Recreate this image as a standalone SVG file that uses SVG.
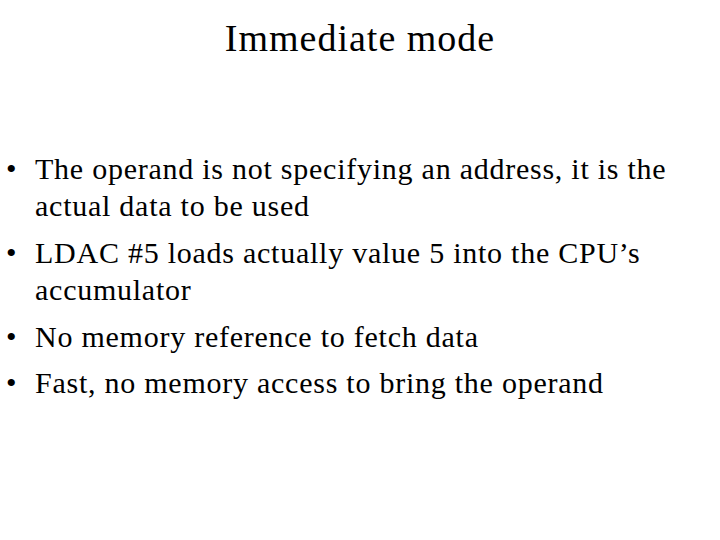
<svg xmlns="http://www.w3.org/2000/svg" width="720" height="540" viewBox="0 0 720 540">
<style>
text{font-family:"Liberation Serif","Times New Roman",serif;fill:#000}
.t{font-size:38px;letter-spacing:1px}
.b{font-size:30px;letter-spacing:0.75px}
</style>
<rect width="720" height="540" fill="#fff"/>
<g id="title"><text class="t" x="360" y="51" text-anchor="middle">Immediate mode</text></g>
<g id="bullets">
<text class="b" x="6" y="179">•</text><text class="b" x="35" y="179">The operand is not specifying an address, it is the</text>
<text class="b" x="35" y="216">actual data to be used</text>
<text class="b" x="6" y="263">•</text><text class="b" x="35" y="263">LDAC #5 loads actually value 5 into the CPU’s</text>
<text class="b" x="35" y="300">accumulator</text>
<text class="b" x="6" y="347">•</text><text class="b" x="35" y="347">No memory reference to fetch data</text>
<text class="b" x="6" y="393">•</text><text class="b" x="35" y="393">Fast, no memory access to bring the operand</text>
</g>
</svg>
